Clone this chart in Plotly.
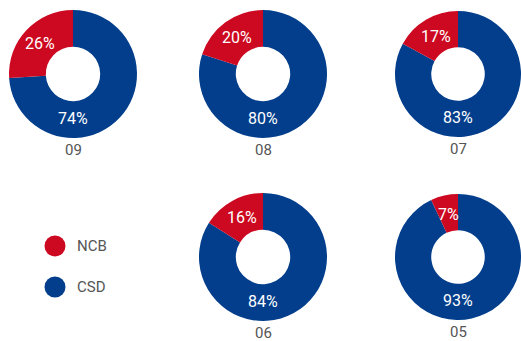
import math
import plotly.graph_objects as go

# Share of NCB vs CSD per year
years = ["09", "08", "07", "06", "05"]
ncb = [26, 20, 17, 16, 7]
csd = [74, 80, 83, 84, 93]
series_names = ["NCB", "CSD"]
colors = ["#CD0921", "#023E8C"]

W, H = 521, 341
# pixel placement of each donut: (center x, center y, radius)
centers = [(73, 74), (263, 74), (458, 74), (263, 257), (458, 257)]
radii = [64, 64, 63, 64, 63]
HOLE = 0.425

fig = go.Figure()
annotations = []
shapes = []

for i, yr in enumerate(years):
    cx, cy = centers[i]
    r = radii[i]
    x0, x1 = (cx - r) / W, min(cx + r, W) / W
    y0, y1 = 1 - (cy + r) / H, 1 - (cy - r) / H
    # CSD sweeps clockwise from 12 o'clock, NCB closes the ring on the left
    fig.add_trace(go.Pie(
        labels=[series_names[1], series_names[0]],
        values=[csd[i], ncb[i]],
        hole=HOLE,
        sort=False,
        direction="clockwise",
        rotation=0,
        textinfo="none",
        hoverinfo="label+percent",
        marker=dict(colors=[colors[1], colors[0]], line=dict(width=0)),
        domain=dict(x=[x0, x1], y=[y0, y1]),
        showlegend=False,
    ))

    total = ncb[i] + csd[i]
    rl = r * (1 + HOLE) / 2 - 1
    # NCB label at the middle of its slice
    theta = math.pi * ncb[i] / total
    lx = cx - rl * math.sin(theta)
    ly = cy - rl * math.cos(theta)
    annotations.append(dict(
        x=lx / W, y=1 - ly / H, xref="paper", yref="paper",
        text=f"{ncb[i]}%", showarrow=False,
        font=dict(family="Roboto", size=16, color="white"),
        xanchor="center", yanchor="middle",
    ))
    # CSD label below the hole
    annotations.append(dict(
        x=cx / W, y=1 - (cy + rl) / H, xref="paper", yref="paper",
        text=f"{csd[i]}%", showarrow=False,
        font=dict(family="Roboto", size=16, color="white"),
        xanchor="center", yanchor="middle",
    ))
    # year caption
    annotations.append(dict(
        x=cx / W, y=1 - (cy + r + 12) / H, xref="paper", yref="paper",
        text=yr, showarrow=False,
        font=dict(family="Roboto", size=15, color="#555555"),
        xanchor="center", yanchor="middle",
    ))

# legend: round swatches with labels
leg_x, leg_y, leg_gap, dot_r = 55, 246, 41, 10.5
for k, name in enumerate(series_names):
    yy = leg_y + k * leg_gap
    shapes.append(dict(
        type="circle", xref="paper", yref="paper",
        x0=(leg_x - dot_r) / W, x1=(leg_x + dot_r) / W,
        y0=1 - (yy + dot_r) / H, y1=1 - (yy - dot_r) / H,
        fillcolor=colors[k], line=dict(width=0),
    ))
    annotations.append(dict(
        x=(leg_x + 20) / W, y=1 - yy / H, xref="paper", yref="paper",
        text=name, showarrow=False,
        font=dict(family="Roboto", size=15, color="#555555"),
        xanchor="left", yanchor="middle",
    ))

fig.update_layout(
    width=W, height=H,
    margin=dict(l=0, r=0, t=0, b=0),
    paper_bgcolor="white", plot_bgcolor="white",
    annotations=annotations, shapes=shapes,
    font=dict(family="Roboto"),
)

fig.write_html("out.html")
